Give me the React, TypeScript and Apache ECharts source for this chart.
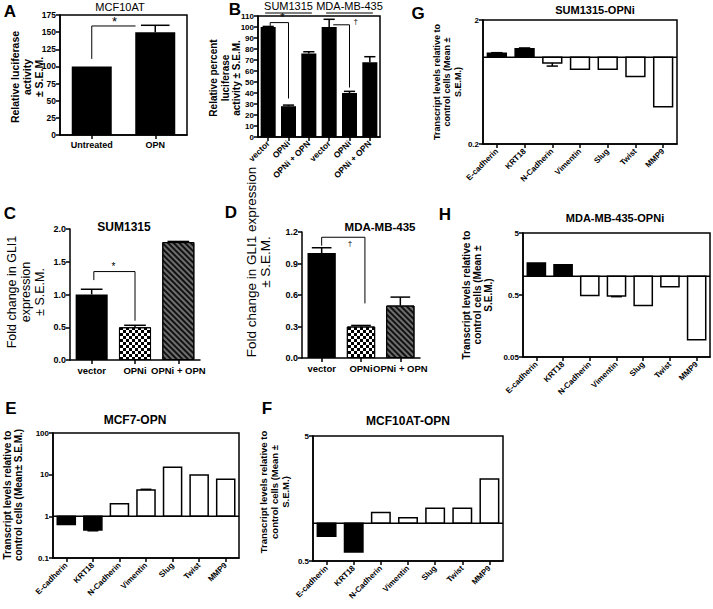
import React, { useEffect, useRef } from 'react';
import * as echarts from 'echarts';

const FONT = '"Liberation Sans", Arial, Helvetica, sans-serif';

// ---------- Panel A ----------
const aCats = ['Untreated', 'OPN'];
const aVals = [100, 150];
const aErr = [0, 10];
const aSig = [0, 0, 1, -0.31, 159, 111, 159];
const aSigText = [0, 0.36, 166];

// ---------- Panel B ----------
const bCats = ['vector', 'OPNi', 'OPNi + OPN', 'vector', 'OPNi', 'OPNi + OPN'];
const bVals = [100, 28, 76, 100, 40, 68];
const bErr = [0.5, 1, 1.5, 7, 1.5, 5];
const bGroups = ['SUM1315', 'MDA-MB-435'];
const bGroupSpans = [[0, 2], [3, 5]];
const bSig1 = [0, 0.1, 1, 0, 104, 101, 35];
const bSig1Text = [0, 0.7, 109];
const bSig2 = [3, 0.2, 4, 0, 102, 102, 45];
const bSig2Text = [4, 0.3, 105];

// ---------- Panels C, D ----------
const cdCats = ['vector', 'OPNi', 'OPNi + OPN'];
const cVals = [1.0, 0.5, 1.8];
const cErr = [0.08, 0.03, 0.01];
const cSig = [0, 0.05, 1, 0.0, 1.35, 1.22, 0.6];
const cSigText = [0, 0.5, 1.42];
const dVals = [1.0, 0.3, 0.5];
const dErr = [0.05, 0.01, 0.08];
const dSig = [0, 0, 1, 0.1, 1.15, 1.07, 0.52];
const dSigText = [0, 0.72, 1.09];

// ---------- Panels E-H (transcript levels) ----------
const genes = ['E-cadherin', 'KRT18', 'N-Cadherin', 'Vimentin', 'Slug', 'Twist', 'MMP9'];
const filledGenes = ['E-cadherin', 'KRT18'];
const gVals = [1.08, 1.17, 0.9, 0.8, 0.8, 0.7, 0.4];
const gErr = [0.01, 0.02, 0.05, 0, 0, 0, 0];
const gTicks = [0.2, 2];
const hVals = [1.64, 1.54, 0.49, 0.48, 0.34, 0.68, 0.095];
const hErr = [0, 0, 0, 0.01, 0, 0, 0];
const hTicks = [0.05, 0.5, 5];
const eVals = [0.64, 0.47, 2.0, 4.3, 15, 9.8, 7.8];
const eErr = [0, 0.02, 0, 0.15, 0, 0, 0];
const eTicks = [0.1, 1, 10, 100];
const fVals = [0.79, 0.59, 1.22, 1.11, 1.32, 1.32, 2.26];
const fErr = [0, 0, 0, 0, 0, 0, 0];
const fTicks = [0.5, 5];

const LINE = { color: '#000', width: 1.5 };

function fmtNum(v: number) {
  return String(+Number(v).toPrecision(3));
}

function catAxis(gi: number, cats: string[], label: any) {
  return {
    type: 'category',
    gridIndex: gi,
    data: cats,
    axisLine: { show: true, onZero: false, lineStyle: LINE },
    axisTick: { show: true, alignWithLabel: true, length: 4, lineStyle: LINE },
    axisLabel: {
      color: '#000',
      fontFamily: FONT,
      fontWeight: 'bold',
      fontSize: 8,
      interval: 0,
      margin: 6,
      hideOverlap: false,
      ...label,
    },
    splitLine: { show: false },
  };
}

function linAxis(gi: number, max: number, interval: number, digits: number, size: number) {
  return {
    type: 'value',
    gridIndex: gi,
    min: 0,
    max,
    interval,
    axisLine: { show: true, lineStyle: LINE },
    axisTick: { show: true, length: 4, lineStyle: LINE },
    axisLabel: {
      color: '#000',
      fontFamily: FONT,
      fontWeight: 'bold',
      fontSize: size,
      margin: 4,
      formatter: (v: number) => v.toFixed(digits),
    },
    splitLine: { show: false },
  };
}

function logAxis(gi: number, ticks: number[]) {
  return {
    type: 'log',
    logBase: 10,
    gridIndex: gi,
    min: ticks[0],
    max: ticks[ticks.length - 1],
    axisLine: { show: true, lineStyle: LINE },
    axisTick: { show: true, length: 4, lineStyle: LINE, customValues: ticks },
    axisLabel: {
      color: '#000',
      fontFamily: FONT,
      fontWeight: 'bold',
      fontSize: 8,
      margin: 4,
      customValues: ticks,
      formatter: (v: number) => fmtNum(v),
    },
    minorTick: { show: false },
    splitLine: { show: false },
  };
}

function errSeries(gi: number, vals: number[], errs: number[], capFrac: number) {
  return {
    type: 'custom',
    xAxisIndex: gi,
    yAxisIndex: gi,
    z: 3,
    silent: true,
    data: vals.map((v, i) => [i, v, errs[i]]),
    renderItem: (params: any, api: any) => {
      const i = api.value(0);
      const v = api.value(1);
      const e = api.value(2);
      if (!e) return { type: 'group', children: [] };
      const p0 = api.coord([i, v]);
      const p1 = api.coord([i, v + e]);
      const hw = (api.size([1, 0])[0] * capFrac) / 2;
      return {
        type: 'group',
        children: [
          { type: 'line', shape: { x1: p0[0], y1: p0[1], x2: p1[0], y2: p1[1] }, style: { stroke: '#000', lineWidth: 1.5 } },
          { type: 'line', shape: { x1: p1[0] - hw, y1: p1[1], x2: p1[0] + hw, y2: p1[1] }, style: { stroke: '#000', lineWidth: 1.5 } },
        ],
      };
    },
  };
}

function sigSeries(gi: number, sig: number[], txt: number[], mark: string, size: number) {
  return {
    type: 'custom',
    xAxisIndex: gi,
    yAxisIndex: gi,
    z: 4,
    silent: true,
    data: [[...sig, ...txt]],
    renderItem: (params: any, api: any) => {
      const v = (k: number) => api.value(k);
      const bw = api.size([1, 0])[0];
      const xl = api.coord([v(0), v(4)])[0] + v(1) * bw;
      const xr = api.coord([v(2), v(4)])[0] + v(3) * bw;
      const yt = api.coord([v(0), v(4)])[1];
      const yl = api.coord([v(0), v(5)])[1];
      const yr = api.coord([v(2), v(6)])[1];
      const tp = api.coord([v(7), v(9)]);
      return {
        type: 'group',
        children: [
          {
            type: 'polyline',
            shape: { points: [[xl, yl], [xl, yt], [xr, yt], [xr, yr]] },
            style: { stroke: '#000', lineWidth: 1, fill: 'none' },
          },
          {
            type: 'text',
            x: tp[0] + v(8) * bw,
            y: tp[1],
            style: { text: mark, fontSize: size, fontFamily: FONT, fill: '#000', align: 'center', verticalAlign: 'middle' },
          },
        ],
      };
    },
  };
}

function logBarSeries(gi: number, vals: number[], errs: number[]) {
  const n = vals.length;
  return {
    type: 'custom',
    xAxisIndex: gi,
    yAxisIndex: gi,
    silent: true,
    data: vals.map((v, i) => [i, v, errs[i]]),
    renderItem: (params: any, api: any) => {
      const i = api.value(0);
      const v = api.value(1);
      const e = api.value(2);
      const base = api.coord([i, 1]);
      const top = api.coord([i, v]);
      const bw = api.size([1, 0])[0];
      const w = bw * 0.68;
      const up = v >= 1;
      const filled = filledGenes.indexOf(genes[i]) >= 0;
      const children: any[] = [
        {
          type: 'rect',
          shape: { x: base[0] - w / 2, y: Math.min(base[1], top[1]), width: w, height: Math.abs(top[1] - base[1]) },
          style: { fill: filled ? '#000' : '#fff', stroke: '#000', lineWidth: 1.5 },
        },
      ];
      if (e) {
        const ep = api.coord([i, up ? v + e : v - e]);
        const hw = w * 0.3;
        children.push(
          { type: 'line', shape: { x1: top[0], y1: top[1], x2: ep[0], y2: ep[1] }, style: { stroke: '#000', lineWidth: 1.5 } },
          { type: 'line', shape: { x1: ep[0] - hw, y1: ep[1], x2: ep[0] + hw, y2: ep[1] }, style: { stroke: '#000', lineWidth: 1.5 } }
        );
      }
      if (params.dataIndex === n - 1) {
        const cs = params.coordSys;
        children.push({
          type: 'line',
          shape: { x1: cs.x, y1: base[1], x2: cs.x + cs.width, y2: base[1] },
          style: { stroke: '#000', lineWidth: 1.5 },
        });
      }
      return { type: 'group', children };
    },
  };
}

const CHECKER = {
  symbol: 'rect',
  symbolSize: 1,
  dashArrayX: [[3, 3], [0, 3, 3, 0]],
  dashArrayY: [3, 0],
  color: '#000',
  backgroundColor: '#fff',
};
const HATCH = {
  symbol: 'rect',
  symbolSize: 1,
  dashArrayX: [1, 0],
  dashArrayY: [1.3, 1.4],
  rotation: Math.PI / 4,
  color: '#111',
};

function cdData(vals: number[]) {
  return vals.map((v, i) => {
    if (i === 0) return { value: v, itemStyle: { color: '#000' } };
    if (i === 1) return { value: v, itemStyle: { color: '#fff', borderColor: '#000', borderWidth: 1, decal: CHECKER } };
    return { value: v, itemStyle: { color: '#6e6e6e', borderColor: '#000', borderWidth: 1, decal: HATCH } };
  });
}

function titleItem(text: string, x: number, y: number, bold: boolean, size: number) {
  return {
    text,
    left: x,
    top: y,
    textAlign: 'center',
    padding: 0,
    textStyle: { fontFamily: FONT, fontWeight: bold ? 'bold' : 'normal', fontSize: size, color: '#000' },
  };
}

function letter(t: string, x: number, y: number) {
  return {
    type: 'text',
    x,
    y,
    style: { text: t, fontFamily: FONT, fontWeight: 'bold', fontSize: 17, fill: '#000', align: 'center', verticalAlign: 'middle' },
  };
}

function yName(t: string, x: number, y: number, bold: boolean, size: number, lh: number) {
  return {
    type: 'text',
    x,
    y,
    rotation: Math.PI / 2,
    style: {
      text: t,
      fontFamily: FONT,
      fontWeight: bold ? 'bold' : 'normal',
      fontSize: size,
      lineHeight: lh,
      fill: '#000',
      align: 'center',
      verticalAlign: 'middle',
    },
  };
}

const TRANSCRIPT = 'Transcript levels relative to\ncontrol cells (Mean ±\nS.E.M.)';

const boxGrid = (left: number, top: number, width: number, height: number, box: boolean) => ({
  left,
  top,
  width,
  height,
  show: box,
  borderColor: '#000',
  borderWidth: 1.5,
  backgroundColor: 'transparent',
  containLabel: false,
  outerBoundsMode: 'none',
});

const option: any = {
  animation: false,
  backgroundColor: '#fff',
  textStyle: { fontFamily: FONT },
  title: [
    titleItem('MCF10AT', 120, 1, false, 11),
    titleItem('SUM1315-OPNi', 595, 4, true, 11),
    titleItem('SUM1315', 124, 221, true, 12),
    titleItem('MDA-MB-435', 380, 221, true, 11.5),
    titleItem('MDA-MB-435-OPNi', 615, 212, true, 11),
    titleItem('MCF7-OPN', 135, 414, true, 12),
    titleItem('MCF10AT-OPN', 408, 415, true, 12),
  ],
  grid: [
    boxGrid(60, 15, 127, 120, true), // A
    boxGrid(258, 16, 122, 121, true), // B
    boxGrid(483, 20, 194, 124, true), // G
    boxGrid(70, 229, 130, 131, false), // C
    boxGrid(302, 232, 118, 126, false), // D
    boxGrid(523, 233, 187, 124, true), // H
    boxGrid(53, 433, 186, 125, true), // E
    boxGrid(313, 436, 190, 125, true), // F
  ],
  xAxis: [
    catAxis(0, aCats, { fontSize: 9, rotate: 0, margin: 5 }),
    catAxis(1, bCats, { fontSize: 8.5, rotate: 45, margin: 5 }),
    catAxis(2, genes, { rotate: 45 }),
    catAxis(3, cdCats, { fontSize: 9.5, rotate: 0, margin: 5 }),
    catAxis(4, cdCats, { fontSize: 9.5, rotate: 0, margin: 5 }),
    catAxis(5, genes, { rotate: 45 }),
    catAxis(6, genes, { rotate: 45 }),
    catAxis(7, genes, { rotate: 45 }),
  ],
  yAxis: [
    linAxis(0, 175, 25, 0, 8.5),
    linAxis(1, 110, 10, 0, 8),
    logAxis(2, gTicks),
    linAxis(3, 2, 0.5, 1, 9),
    linAxis(4, 1.2, 0.3, 1, 9),
    logAxis(5, hTicks),
    logAxis(6, eTicks),
    logAxis(7, fTicks),
  ],
  series: [
    // A
    { type: 'bar', xAxisIndex: 0, yAxisIndex: 0, data: aVals, barWidth: '63%', itemStyle: { color: '#000' } },
    errSeries(0, aVals, aErr, 0.45),
    sigSeries(0, aSig, aSigText, '*', 13),
    // B
    { type: 'bar', xAxisIndex: 1, yAxisIndex: 1, data: bVals, barWidth: '74%', itemStyle: { color: '#000' } },
    errSeries(1, bVals, bErr, 0.55),
    sigSeries(1, bSig1, bSig1Text, '*', 11),
    sigSeries(1, bSig2, bSig2Text, '†', 8),
    {
      type: 'custom',
      xAxisIndex: 1,
      yAxisIndex: 1,
      silent: true,
      data: bGroupSpans.map((s, k) => [s[0], s[1], k]),
      renderItem: (params: any, api: any) => {
        const bw = api.size([1, 0])[0];
        const top = params.coordSys.y;
        const x0 = api.coord([api.value(0), 0])[0] - 0.15 * bw;
        const x1 = api.coord([api.value(1), 0])[0] + 0.15 * bw;
        return {
          type: 'group',
          children: [
            { type: 'line', shape: { x1: x0, y1: top - 3, x2: x1, y2: top - 3 }, style: { stroke: '#000', lineWidth: 1.2 } },
            {
              type: 'text',
              x: (x0 + x1) / 2,
              y: top - 10,
              style: { text: bGroups[api.value(2)], fontFamily: FONT, fontSize: 11, fill: '#000', align: 'center', verticalAlign: 'middle' },
            },
          ],
        };
      },
    },
    // G
    logBarSeries(2, gVals, gErr),
    // C
    { type: 'bar', xAxisIndex: 3, yAxisIndex: 3, data: cdData(cVals), barWidth: '74%' },
    errSeries(3, cVals, cErr, 0.5),
    sigSeries(3, cSig, cSigText, '*', 10),
    // D
    { type: 'bar', xAxisIndex: 4, yAxisIndex: 4, data: cdData(dVals), barWidth: '72%' },
    errSeries(4, dVals, dErr, 0.5),
    sigSeries(4, dSig, dSigText, '†', 8),
    // H, E, F
    logBarSeries(5, hVals, hErr),
    logBarSeries(6, eVals, eErr),
    logBarSeries(7, fVals, fErr),
  ],
  graphic: [
    letter('A', 10, 11),
    letter('B', 235, 9),
    letter('G', 418, 13),
    letter('C', 10, 213),
    letter('D', 231, 212),
    letter('H', 445, 214),
    letter('E', 11, 408),
    letter('F', 267, 408),
    yName('Relative luciferase\nactivity\n± S.E.M.', 27, 77, true, 10.5, 12),
    yName('Relative percent\nluciferase\nactivity ± S.E.M.', 225, 78, true, 10, 11.5),
    yName(TRANSCRIPT, 447, 82, true, 9, 10.5),
    yName(TRANSCRIPT, 477, 295, true, 10, 11),
    yName('Transcript levels relative to\ncontrol cells (Mean± S.E.M.)', 13, 495, true, 10, 11),
    yName(TRANSCRIPT, 274, 492, true, 9.5, 11),
    yName('Fold change in GLI1\nexpression\n± S.E.M.', 26, 292, false, 12.5, 14),
    yName('Fold change in GLI1 expression\n± S.E.M.', 258, 262, false, 13.5, 14),
  ],
};

export default function App() {
  const ref = useRef<HTMLDivElement>(null);
  useEffect(() => {
    document.body.style.margin = '0';
    const chart = echarts.init(ref.current as HTMLDivElement, null, { renderer: 'svg' });
    chart.setOption(option);
    return () => chart.dispose();
  }, []);
  return (
    <div
      ref={ref}
      style={{ position: 'absolute', left: 0, top: 0, width: 713, height: 609, background: '#fff' }}
    />
  );
}
